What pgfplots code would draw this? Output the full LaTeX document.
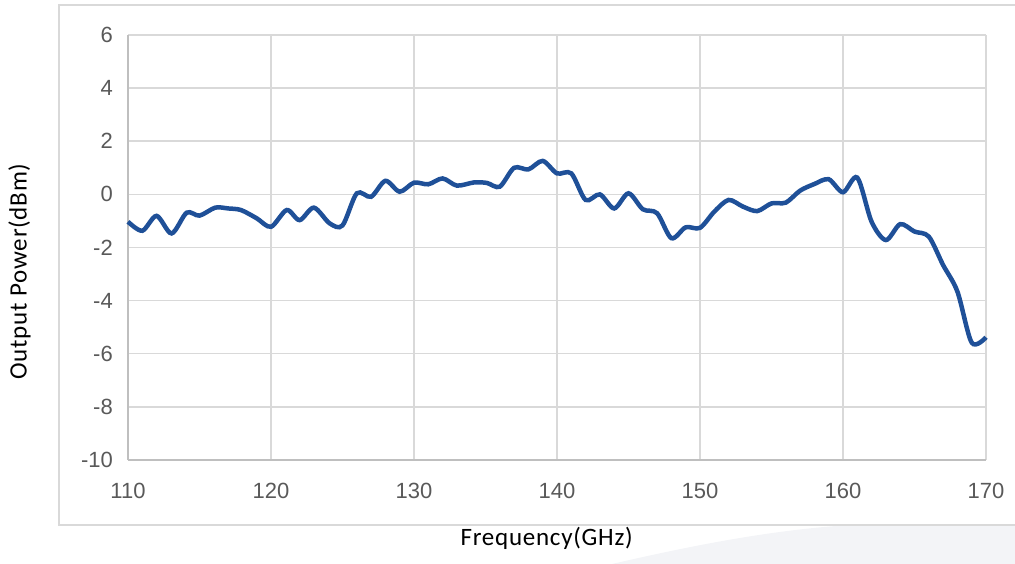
\documentclass[border=0pt]{standalone}
\usepackage{pgfplots}
\pgfplotsset{compat=1.18}
\usepackage{fontspec}
\setmainfont{Liberation Sans}
\newfontfamily\calibri[LetterSpace=3]{Carlito}

\definecolor{linecol}{RGB}{31,80,152}
\definecolor{gridcol}{RGB}{217,217,217}
\definecolor{axiscol}{RGB}{191,191,191}
\definecolor{tickcol}{RGB}{89,89,89}
\definecolor{framecol}{RGB}{217,217,217}
\definecolor{wedgecol}{RGB}{243,244,247}

\begin{document}
\begin{tikzpicture}
\useasboundingbox (0pt,0pt) rectangle (1015pt,564pt);
% faint background wedge, bottom right
\fill[wedgecol] (612pt,0pt) .. controls (690pt,18pt) and (770pt,34pt) .. (850pt,39pt) -- (1020pt,39pt) -- (1020pt,0pt) -- cycle;
% outer chart frame
\draw[framecol, line width=2pt] (1030pt,39pt) -- (59pt,39pt) -- (59pt,559pt) -- (1030pt,559pt);

\begin{axis}[
    at={(128pt,104pt)}, anchor=south west,
    scale only axis,
    width=858pt, height=425pt,
    xmin=110, xmax=170,
    ymin=-10, ymax=6,
    xtick={110,120,...,170},
    ytick={-10,-8,...,6},
    yticklabels={-10,-8,-6,-4,-2,0,2,4,6},
    xticklabels={110,120,130,140,150,160,170},
    major tick length=0pt,
    grid=major,
    major grid style={gridcol, line width=1.5pt},
    axis lines=left,
    axis line style={-, axiscol, line width=1.5pt},
    tick label style={font=\fontsize{22}{24}\selectfont, text=tickcol, inner sep=0pt},
    xticklabel style={anchor=north, yshift=-23pt},
    yticklabel style={anchor=east, xshift=-15pt},
    clip=false,
]
\addplot[linecol, line width=4.5pt, smooth, tension=0.5] coordinates {
(110,-1.03) (111,-1.37) (112,-0.81) (113.05,-1.47) (114.1,-0.69) (115,-0.80)
(116.1,-0.50) (117,-0.53) (117.9,-0.59) (119,-0.90) (120,-1.22) (121.1,-0.59)
(122,-0.97) (123,-0.50) (124.1,-1.09) (125,-1.17) (126,0.04) (127,-0.09)
(128,0.51) (129,0.10) (130,0.44) (131,0.38) (132,0.60) (133,0.33)
(134.2,0.45) (135.1,0.43) (136,0.29) (137,1.00) (138,0.94) (139,1.26)
(140,0.79) (141,0.79) (142,-0.21) (143,0.00) (144,-0.53) (145,0.04)
(146,-0.56) (147,-0.71) (148,-1.65) (149,-1.24) (150,-1.26) (151,-0.65)
(152,-0.21) (153,-0.46) (154,-0.63) (155,-0.34) (156,-0.31) (157,0.14)
(158,0.39) (159,0.57) (160,0.08) (161,0.63) (162,-1.03) (163,-1.72)
(164,-1.12) (165,-1.40) (166,-1.59) (167,-2.66) (168,-3.66) (169,-5.58)
(170,-5.38)
};
\end{axis}

\node[anchor=base, font=\calibri\fontsize{25}{27}\selectfont, inner sep=0pt] at (546.7pt,18pt) {Frequency(GHz)};
\node[anchor=base, rotate=90, font=\calibri\fontsize{25}{27}\selectfont, inner sep=0pt] at (26.7pt,292.5pt) {Output Power(dBm)};
\end{tikzpicture}
\end{document}
